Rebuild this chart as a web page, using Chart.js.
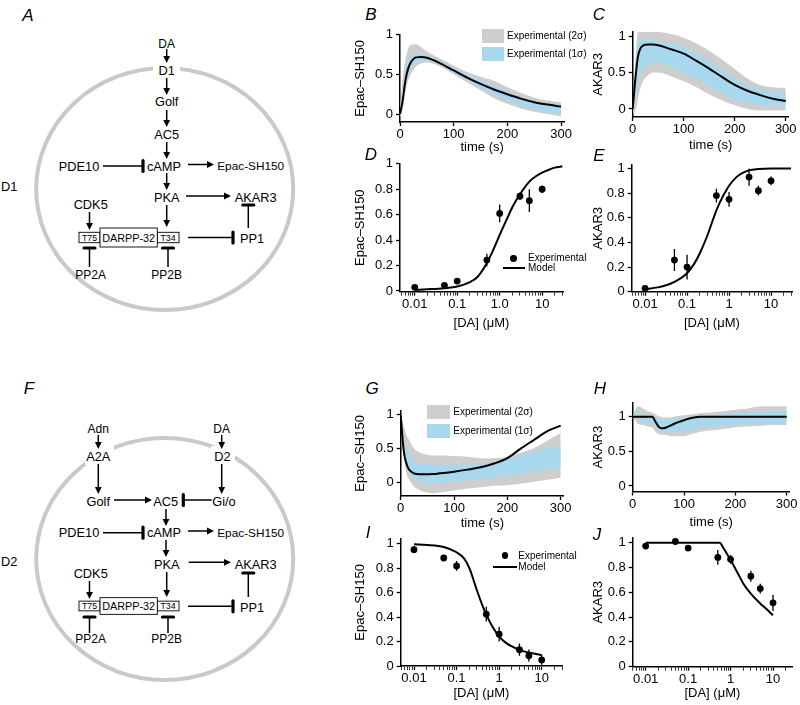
<!DOCTYPE html>
<html><head><meta charset="utf-8"><title>DA signalling model</title>
<script src="https://cdn.jsdelivr.net/npm/chart.js@4.4.1/dist/chart.umd.min.js"></script>
<style>
html,body{margin:0;padding:0;background:#fff;}
body{width:800px;height:705px;position:relative;overflow:hidden;font-family:"Liberation Sans",Arial,Helvetica,sans-serif;color:#000;}
canvas{position:absolute;}
.pl{position:absolute;font-style:italic;font-size:17px;line-height:17px;transform:translate(-50%,-50%);}
.lt{position:absolute;font-size:10px;line-height:12px;white-space:nowrap;transform:translateY(-50%);}
.box{position:absolute;}
</style></head><body>
<svg id="diag" width="320" height="705" style="position:absolute;left:0;top:0"></svg>
<div id="charts"></div>
<div id="overlay"></div>
<script>
// ---------------- DATA ----------------
// Panel B (D1, Epac-SH150 time course)
const tB = [0,5,10,15,20,30,40,50,75,100,125,150,175,200,225,250,275,300];
const modelB = [0,0.17,0.42,0.57,0.65,0.715,0.72,0.71,0.64,0.55,0.46,0.38,0.31,0.25,0.195,0.15,0.12,0.095];
const sd2UpB = [0.05,0.45,0.68,0.82,0.87,0.88,0.84,0.79,0.70,0.61,0.53,0.47,0.42,0.34,0.27,0.21,0.17,0.15];
const sd2LoB = [-0.04,0.05,0.28,0.42,0.50,0.60,0.64,0.65,0.60,0.50,0.40,0.30,0.20,0.13,0.07,0.03,0.0,-0.03];
const sd1UpB = [0.02,0.30,0.55,0.68,0.73,0.76,0.75,0.73,0.66,0.58,0.49,0.42,0.35,0.28,0.22,0.17,0.14,0.12];
const sd1LoB = [-0.01,0.12,0.35,0.50,0.58,0.65,0.67,0.67,0.62,0.52,0.43,0.33,0.25,0.17,0.11,0.06,0.03,0.0];
// Panel C (D1, AKAR3 time course)
const tC = [0,5,10,15,20,30,40,50,75,100,125,150,175,200,225,250,275,300];
const modelC = [0,0.40,0.71,0.83,0.87,0.885,0.885,0.875,0.82,0.76,0.66,0.555,0.44,0.33,0.25,0.19,0.14,0.11];
const sd2UpC = [0.05,0.60,1.05,1.08,1.08,1.07,1.07,1.06,1.03,0.98,0.90,0.80,0.68,0.55,0.42,0.33,0.30,0.29];
const sd2LoC = [-0.05,-0.03,0.12,0.28,0.38,0.46,0.50,0.50,0.45,0.38,0.30,0.20,0.12,0.05,0.0,-0.02,-0.02,-0.02];
const sd1UpC = [0.02,0.50,0.90,0.95,0.96,0.95,0.94,0.93,0.90,0.85,0.76,0.65,0.53,0.42,0.33,0.27,0.23,0.22];
const sd1LoC = [-0.02,0.10,0.35,0.50,0.56,0.61,0.63,0.63,0.58,0.50,0.41,0.32,0.22,0.13,0.08,0.05,0.04,0.04];
// Panel G (D2, Epac-SH150 time course)
const tG = [0,3,6,10,15,20,25,30,40,50,60,80,100,125,150,175,200,225,250,275,300];
const modelG = [1.0,0.69,0.45,0.30,0.20,0.16,0.135,0.125,0.12,0.12,0.124,0.14,0.16,0.19,0.225,0.28,0.36,0.50,0.63,0.76,0.84];
const sd2UpG = [1.04,0.92,0.82,0.72,0.64,0.57,0.50,0.47,0.43,0.41,0.40,0.40,0.39,0.38,0.36,0.36,0.38,0.44,0.51,0.62,0.73];
const sd2LoG = [0.94,0.65,0.38,0.15,0.05,-0.01,-0.06,-0.09,-0.13,-0.15,-0.16,-0.14,-0.12,-0.09,-0.07,-0.05,-0.04,-0.02,0.01,0.04,0.07];
const sd1UpG = [1.0,0.80,0.64,0.52,0.42,0.37,0.33,0.30,0.28,0.27,0.26,0.26,0.26,0.265,0.27,0.30,0.35,0.40,0.46,0.51,0.555];
const sd1LoG = [0.98,0.70,0.48,0.30,0.18,0.10,0.06,0.03,0.0,-0.01,-0.01,0.0,0.01,0.03,0.05,0.07,0.10,0.13,0.17,0.20,0.23];
// Panel H (D2, AKAR3 time course)
const tH = [0,10,20,30,38,45,50,55,60,70,80,90,100,110,120,130,150,175,200,225,250,275,300];
const modelH = [1,1,1,1,1,0.92,0.86,0.835,0.835,0.86,0.895,0.925,0.95,0.975,0.99,1,1,1,1,1,1,1,1];
const sd2UpH = [1.0,1.15,1.12,1.08,1.06,1.03,1.01,1.0,0.99,0.99,1.0,1.01,1.02,1.03,1.04,1.05,1.06,1.08,1.10,1.12,1.15,1.15,1.15];
const sd2LoH = [1.0,0.90,0.88,0.86,0.84,0.78,0.75,0.74,0.74,0.73,0.72,0.72,0.72,0.74,0.76,0.78,0.80,0.82,0.85,0.86,0.87,0.88,0.88];
const sd1UpH = [1.0,1.06,1.04,1.02,1.01,0.99,0.97,0.96,0.96,0.96,0.97,0.98,0.99,1.0,1.0,1.01,1.02,1.03,1.05,1.06,1.07,1.08,1.08];
const sd1LoH = [1.0,0.95,0.93,0.91,0.90,0.86,0.82,0.80,0.79,0.78,0.78,0.78,0.79,0.80,0.82,0.83,0.85,0.87,0.88,0.89,0.90,0.91,0.91];

// Dose-response panels
const doses = [0.01,0.05,0.1,0.5,1,3,5,10];
const expD = [0.029,0.044,0.078,0.243,0.61,0.745,0.71,0.80];
const errD = [0.01,0.01,0.015,0.05,0.07,0.03,0.09,0.03];
const modelDx = [0.01,0.02,0.05,0.1,0.2,0.3,0.5,0.7,1,1.5,2,3,5,7,10,15,20,30];
const modelDy = [0.008,0.013,0.022,0.035,0.07,0.11,0.22,0.32,0.44,0.57,0.66,0.76,0.86,0.90,0.93,0.955,0.97,0.98];
const expE = [0.027,0.257,0.20,0.78,0.75,0.93,0.82,0.90];
const errE = [0.01,0.09,0.10,0.055,0.06,0.07,0.04,0.035];
const modelEx = [0.01,0.02,0.033,0.05,0.1,0.15,0.2,0.3,0.4,0.5,0.7,0.85,1,1.5,2,3,5,10,30];
const modelEy = [0.02,0.035,0.054,0.08,0.15,0.23,0.31,0.45,0.57,0.66,0.77,0.82,0.86,0.93,0.96,0.985,0.995,1.0,1.0];
const expI = [0.951,0.883,0.818,0.424,0.26,0.133,0.084,0.05];
const errI = [0.03,0.015,0.04,0.06,0.06,0.05,0.05,0.04];
const modelIx = [0.01,0.02,0.05,0.1,0.15,0.2,0.3,0.4,0.5,0.7,1,1.5,2,3,5,10];
const modelIy = [0.995,0.99,0.973,0.93,0.88,0.80,0.62,0.50,0.42,0.32,0.24,0.185,0.16,0.13,0.11,0.09];
const expJ = [0.973,1.01,0.957,0.882,0.866,0.73,0.63,0.515];
const errJ = [0.01,0.005,0.01,0.06,0.035,0.045,0.04,0.065];
const modelJx = [0.01,0.1,0.55,0.7,1,1.5,2,3,5,7,10];
const modelJy = [1,1,1,0.95,0.86,0.75,0.67,0.59,0.51,0.465,0.415];

// Ticks
const timeTicks = [0,100,200,300];
const timeLabels = ['0','100','200','300'];
const halfTicks = [0,0.5,1];
const halfLabels = ['0','0.5','1'];
const fifthTicks = [0,0.2,0.4,0.6,0.8,1];
const fifthLabels = ['0','0.2','0.4','0.6','0.8','1'];
const doseMajor = [0.01,0.1,1,10];
const doseLabelsD = ['0.01','0.1','1.0','10'];
const doseLabels = ['0.01','0.1','1','10'];

// ---------------- STYLE ----------------
const GREY = '#cecece', BLUE = '#a7d8ee', CIRCLE = '#c9c9c9';
const FONT = '"Liberation Sans", Arial, Helvetica, sans-serif';
Chart.defaults.font.family = FONT;
Chart.defaults.font.size = 13;
Chart.defaults.color = '#000';

const zip = (xs, ys) => xs.map((x,i)=>({x, y:ys[i]}));
const NOLINE = 'rgba(0,0,0,0)';
function bandSets(t, model, s1u, s1l, s2u, s2l){
  const base = {pointRadius:0, cubicInterpolationMode:'monotone'};
  return [
    {...base, data:zip(t,model), borderColor:'#000', borderWidth:2, fill:false},
    {...base, data:zip(t,s1u), borderColor:NOLINE, borderWidth:0, fill:false},
    {...base, data:zip(t,s1l), borderColor:NOLINE, borderWidth:0, fill:'-1', backgroundColor:BLUE},
    {...base, data:zip(t,s2u), borderColor:NOLINE, borderWidth:0, fill:false},
    {...base, data:zip(t,s2l), borderColor:NOLINE, borderWidth:0, fill:'-1', backgroundColor:GREY}
  ];
}
function doseSets(ys, es, mx, my){
  const eb = [];
  doses.forEach((x,i)=>{ eb.push({x, y:ys[i]-es[i]}, {x, y:ys[i]+es[i]}, {x, y:null}); });
  return [
    {data:zip(doses, ys), showLine:false, pointRadius:3.4, pointBackgroundColor:'#000', pointBorderWidth:0, pointBorderColor:'#000'},
    {data:eb, borderColor:'#000', borderWidth:1.3, pointRadius:0, spanGaps:false, fill:false},
    {data:zip(mx, my), borderColor:'#000', borderWidth:2, pointRadius:0, fill:false, cubicInterpolationMode:'monotone'}
  ];
}
const minorLog = [];
[0.001,0.01,0.1,1,10].forEach(d=>{ for(let k=1;k<10;k++) minorLog.push(+(d*k).toPrecision(3)); });

function makePanel(c){
  const LH = 13*1.2;
  const cl = Math.floor(c.yTitleX - LH/2);
  const ct = Math.floor(c.area.t - 10);
  const cw = Math.ceil(c.area.r + 14 - cl);
  const ch = Math.ceil(c.xTitleY + LH/2 - ct);
  const cv = document.createElement('canvas');
  cv.width = cw; cv.height = ch;
  cv.style.left = cl+'px'; cv.style.top = ct+'px';
  cv.style.width = cw+'px'; cv.style.height = ch+'px';
  document.getElementById('charts').appendChild(cv);
  const yW = c.area.l - cl, xH = ct + ch - c.area.b;
  const isLog = c.xType === 'logarithmic';
  const xVals = isLog ? minorLog.filter(v => v >= c.xMin && v <= c.xMax) : timeTicks;
  const border = {display:true, color:'#000', width:1.5};
  new Chart(cv, {
    type:'line',
    data:{datasets:c.datasets},
    options:{
      responsive:false, animation:false, devicePixelRatio:1,
      layout:{padding:{left:0, top:c.area.t-ct, right:cl+cw-c.area.r, bottom:0}},
      plugins:{legend:{display:false}, tooltip:{enabled:false}},
      scales:{
        x:{
          type:c.xType, min:c.xMin, max:c.xMax, position:'bottom', border,
          grid:{display:true, drawOnChartArea:false, drawTicks:true, tickLength:4, tickColor:'#000',
                tickWidth: ctx => (!isLog || (ctx.tick && doseMajor.some(m => Math.abs(m-ctx.tick.value) < 1e-9))) ? 1.3 : 0.8},
          ticks:{autoSkip:false, maxRotation:0, minRotation:0, padding:1,
                 callback:(v)=>{ const i = (isLog?doseMajor:timeTicks).findIndex(m=>Math.abs(m-v)<1e-9); return i<0 ? '' : c.xLabels[i]; }},
          title:{display:true, text:c.xTitle, padding:0},
          afterBuildTicks:s=>{ s.ticks = xVals.map(v=>({value:v})); },
          afterFit:s=>{ s.height = xH; }
        },
        y:{
          type:'linear', min:c.yMin, max:c.yMax, position:'left', border,
          grid:{display:true, drawOnChartArea:false, drawTicks:true, tickLength:4, tickColor:'#000', tickWidth:1.3},
          ticks:{autoSkip:false, padding:3, callback:(v,i)=>c.yLabels[i]},
          title:{display:true, text:c.yTitle, padding:0},
          afterBuildTicks:s=>{ s.ticks = c.yTicks.map(v=>({value:v})); },
          afterFit:s=>{ s.width = yW; }
        }
      }
    }
  });
}

makePanel({area:{l:400,t:34,r:564.3,b:122}, yTitleX:361.7, xTitleY:147, xType:'linear', xMin:0, xMax:306,
  xLabels:timeLabels, xTitle:'time (s)', yMin:-0.1, yMax:1.0, yTicks:halfTicks, yLabels:halfLabels, yTitle:'Epac\u2013SH150',
  datasets:bandSets(tB, modelB, sd1UpB, sd1LoB, sd2UpB, sd2LoB)});
makePanel({area:{l:632.7,t:31.6,r:788.8,b:117}, yTitleX:599.2, xTitleY:145, xType:'linear', xMin:0, xMax:306,
  xLabels:timeLabels, xTitle:'time (s)', yMin:-0.11, yMax:1.06, yTicks:halfTicks, yLabels:halfLabels, yTitle:'AKAR3',
  datasets:bandSets(tC, modelC, sd1UpC, sd1LoC, sd2UpC, sd2LoC)});
makePanel({area:{l:400,t:163,r:563,b:291.6}, yTitleX:360.8, xTitleY:323, xType:'logarithmic', xMin:0.0045, xMax:31,
  xLabels:doseLabelsD, xTitle:'[DA] (\u03bcM)', yMin:-0.005, yMax:1.0, yTicks:fifthTicks, yLabels:fifthLabels, yTitle:'Epac\u2013SH150',
  datasets:doseSets(expD, errD, modelDx, modelDy)});
makePanel({area:{l:631.7,t:164.6,r:792,b:291.7}, yTitleX:599.2, xTitleY:323, xType:'logarithmic', xMin:0.0048, xMax:31.6,
  xLabels:doseLabels, xTitle:'[DA] (\u03bcM)', yMin:0, yMax:1.03, yTicks:fifthTicks, yLabels:fifthLabels, yTitle:'AKAR3',
  datasets:doseSets(expE, errE, modelEx, modelEy)});
makePanel({area:{l:400.7,t:410.2,r:563.9,b:496}, yTitleX:360.8, xTitleY:523, xType:'linear', xMin:0, xMax:306,
  xLabels:timeLabels, xTitle:'time (s)', yMin:-0.2, yMax:1.06, yTicks:halfTicks, yLabels:halfLabels, yTitle:'Epac\u2013SH150',
  datasets:bandSets(tG, modelG, sd1UpG, sd1LoG, sd2UpG, sd2LoG)});
makePanel({area:{l:632.7,t:402.9,r:789.8,b:491.5}, yTitleX:599.2, xTitleY:522, xType:'linear', xMin:0, xMax:306,
  xLabels:timeLabels, xTitle:'time (s)', yMin:-0.08, yMax:1.2, yTicks:halfTicks, yLabels:halfLabels, yTitle:'AKAR3',
  datasets:bandSets(tH, modelH, sd1UpH, sd1LoH, sd2UpH, sd2LoH)});
makePanel({area:{l:400.7,t:538.4,r:562,b:666}, yTitleX:360.8, xTitleY:693, xType:'logarithmic', xMin:0.00487, xMax:30,
  xLabels:doseLabels, xTitle:'[DA] (\u03bcM)', yMin:0, yMax:1.04, yTicks:fifthTicks, yLabels:fifthLabels, yTitle:'Epac\u2013SH150',
  datasets:doseSets(expI, errI, modelIx, modelIy)});
makePanel({area:{l:632.7,t:537.3,r:792,b:666.7}, yTitleX:599.2, xTitleY:693, xType:'logarithmic', xMin:0.00494, xMax:28,
  xLabels:doseLabels, xTitle:'[DA] (\u03bcM)', yMin:0, yMax:1.04, yTicks:fifthTicks, yLabels:fifthLabels, yTitle:'AKAR3',
  datasets:doseSets(expJ, errJ, modelJx, modelJy)});

// ---------------- OVERLAY TEXT / LEGENDS ----------------
const ov = document.getElementById('overlay');
function div(cls, html, style){ const d=document.createElement('div'); d.className=cls; d.innerHTML=html; Object.assign(d.style, style); ov.appendChild(d); return d; }
[['A',28,15],['B',371,14],['C',599,14],['D',371,154],['E',599,155],['F',29,388],['G',372,388],['H',600,388],['I',368,532],['J',597,534]]
  .forEach(([s,x,y])=>div('pl', s, {left:x+'px', top:y+'px'}));
function bandLegend(x, y1, y2, w, h, tx){
  div('box','',{left:x+'px',top:(y1-h/2)+'px',width:w+'px',height:h+'px',background:GREY});
  div('box','',{left:x+'px',top:(y2-h/2)+'px',width:w+'px',height:h+'px',background:BLUE});
  div('lt','Experimental (2\u03c3)',{left:tx+'px',top:y1+'px'});
  div('lt','Experimental (1\u03c3)',{left:tx+'px',top:y2+'px'});
}
bandLegend(482, 36, 54, 22, 14, 507);
bandLegend(427.3, 412, 431, 22.7, 13.5, 453.3);
function modelLegend(dx, dy, lx1, lx2, ly, tx){
  div('box','',{left:(dx-3.4)+'px',top:(dy-3.4)+'px',width:'6.8px',height:'6.8px',borderRadius:'50%',background:'#000'});
  div('box','',{left:lx1+'px',top:(ly-1)+'px',width:(lx2-lx1)+'px',height:'2px',background:'#000'});
  div('lt','Experimental',{left:tx+'px',top:dy+'px'});
  div('lt','Model',{left:tx+'px',top:ly+'px'});
}
modelLegend(513.3, 258.3, 502.7, 525, 268.3, 528);
modelLegend(505, 555.7, 493.3, 516.7, 566.7, 518.3);

// ---------------- SIGNALLING DIAGRAMS ----------------
const svgNS = 'http://www.w3.org/2000/svg';
const svg = document.getElementById('diag');
function el(tag, attrs){ const e=document.createElementNS(svgNS,tag); for(const k in attrs) e.setAttribute(k, attrs[k]); svg.appendChild(e); return e; }
function txt(s, x, y, fs, anchor){ const e=el('text',{x, y, 'font-size':fs, 'text-anchor':anchor||'middle', 'dominant-baseline':'central', 'font-family':FONT, fill:'#000'}); e.textContent=s; }
function arrow(x1,y1,x2,y2){
  const dx=x2-x1, dy=y2-y1, L=Math.hypot(dx,dy), ux=dx/L, uy=dy/L, hl=7, hw=3.4;
  const bx=x2-ux*hl, by=y2-uy*hl;
  el('line',{x1,y1,x2:bx+ux,y2:by+uy,stroke:'#000','stroke-width':1.5});
  el('polygon',{points:`${x2},${y2} ${bx-uy*hw},${by+ux*hw} ${bx+uy*hw},${by-ux*hw}`, fill:'#000'});
}
function inhib(x1,y1,x2,y2){
  const dx=x2-x1, dy=y2-y1, L=Math.hypot(dx,dy), ux=dx/L, uy=dy/L, bl=5.5;
  el('line',{x1,y1,x2,y2,stroke:'#000','stroke-width':1.5});
  el('line',{x1:x2-uy*bl, y1:y2+ux*bl, x2:x2+uy*bl, y2:y2-ux*bl, stroke:'#000','stroke-width':3.2,'stroke-linecap':'round'});
}
function darpp(y, hs, hb){
  el('rect',{x:79, y:y-hs/2, width:21, height:hs, fill:'#fff', stroke:'#000', 'stroke-width':0.9});
  el('rect',{x:157.3, y:y-hs/2, width:21.7, height:hs, fill:'#fff', stroke:'#000', 'stroke-width':0.9});
  el('rect',{x:100, y:y-hb/2, width:57.3, height:hb, fill:'#fff', stroke:'#000', 'stroke-width':0.9});
  txt('T75', 89.5, y, 8.8); txt('DARPP-32', 128.7, y, 10.8); txt('T34', 168, y, 8.8);
}
const FS = 12.8, FSS = 12;
// Diagram A (D1 cell)
el('ellipse',{cx:164.7, cy:189, rx:128.5, ry:121, fill:'none', stroke:CIRCLE, 'stroke-width':4});
el('rect',{x:153, y:61, width:27, height:18, fill:'#fff'});
txt('DA',166.7,43.5,FSS); txt('D1',166.7,70.7,FS); txt('Golf',166.7,101.7,FS); txt('AC5',166.7,134.3,FS);
txt('cAMP',164,166,FS); txt('PDE10',79,166,FS); txt('Epac-SH150',250.7,166,11.8);
txt('PKA',166.7,197.7,FS); txt('AKAR3',255.7,197.7,FS); txt('CDK5',90.7,204.3,FS);
txt('PP1',252,238.3,FS); txt('PP2A',90.7,275,FSS); txt('PP2B',166.7,275,FSS); txt('D1',1,186,FS,'start');
arrow(166.7,49,166.7,63); arrow(166.7,78,166.7,95); arrow(166.7,110,166.7,127); arrow(166.7,142,166.7,159);
arrow(188,164.5,214,164.5); arrow(166.7,173,166.7,190); arrow(186,196,231,196); arrow(166.7,205,166.7,227); arrow(89.5,212,89.5,230);
inhib(103,166,143,166); inhib(188,237.5,233,237.5); inhib(248.3,228,248.3,205); inhib(89.5,267,89.5,248); inhib(168,267,168,248);
darpp(237.5, 10.4, 19);
// Diagram F (D2 cell)
el('ellipse',{cx:164.7, cy:559, rx:128.5, ry:121, fill:'none', stroke:CIRCLE, 'stroke-width':4});
el('rect',{x:85, y:446, width:29, height:19, fill:'#fff'});
el('rect',{x:211, y:446, width:24, height:19, fill:'#fff'});
txt('Adn',98.3,429.3,FSS); txt('DA',221.7,429.3,FSS); txt('A2A',98.3,456,FS); txt('D2',222.5,456,FS);
txt('Golf',98.3,501,FS); txt('AC5',165.7,501,FS); txt('Gi/o',224,501,FS);
txt('PDE10',79,532.7,FS); txt('cAMP',164,532.7,FS); txt('Epac-SH150',250.7,532.7,11.8);
txt('PKA',166.7,564,FS); txt('AKAR3',255.7,564,FS); txt('CDK5',90.7,573.3,FS); txt('PP1',252,607,FS);
txt('PP2A',90.7,639.3,FSS); txt('PP2B',166.7,639.3,FSS); txt('D2',1,561.7,FS,'start');
arrow(98.3,435,98.3,449); arrow(221.7,435,221.7,449); arrow(98.3,464,98.3,494); arrow(221.7,464,221.7,494);
arrow(114,500,152,500); arrow(166,509,166,526); arrow(188,531,214,531); arrow(166,540,166,557);
arrow(188.7,562.3,231,562.3); arrow(166.7,572,166.7,597); arrow(89.5,581,89.5,599);
inhib(211.7,500,183.3,500); inhib(103,532.7,143,532.7); inhib(188,606.3,233,606.3); inhib(248.3,597,248.3,573);
inhib(89.5,633,89.5,617); inhib(168,633,168,617);
darpp(606, 9.7, 16.7);
</script></body></html>
